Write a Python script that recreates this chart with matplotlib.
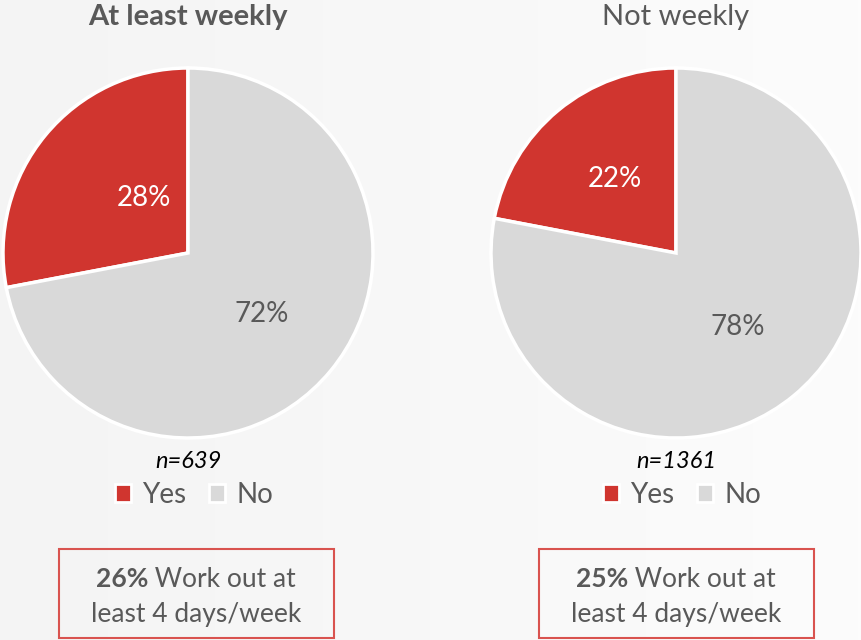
import numpy as np
import matplotlib
matplotlib.use("Agg")
import matplotlib.pyplot as plt
from matplotlib.patches import Rectangle
from matplotlib.offsetbox import TextArea, HPacker, VPacker, AnnotationBbox

plt.rcParams['font.family'] = ['Lato', 'DejaVu Sans']

# Survey data
groups = ["At least weekly", "Not weekly"]
title_bold = [True, False]
yes_pct = [28, 22]
no_pct = [72, 78]
sample_n = [639, 1361]
workout_pct = [26, 25]
legend_labels = ["Yes", "No"]

RED = "#d0352f"
GRAY = "#d9d9d9"
TXT = "#595959"
W, H = 861, 640

fig = plt.figure(figsize=(W / 100, H / 100), dpi=100)

# soft left-to-right background shade
bg = fig.add_axes([0, 0, 1, 1], zorder=-10)
grad = np.linspace(0, 1, 256).reshape(1, -1)
bg.imshow(grad, aspect="auto", cmap=matplotlib.colors.LinearSegmentedColormap.from_list(
    "bg", ["#f4f4f4", "#fcfcfc"]), extent=[0, 1, 0, 1])
bg.axis("off")

centers = [188, 676]
radius = 185
box_centers = [196, 676]

for i, cx in enumerate(centers):
    ax = fig.add_axes([(cx - radius) / W, (H - 253 - radius) / H,
                       2 * radius / W, 2 * radius / H])
    wedges, texts, autotexts = ax.pie(
        [yes_pct[i], no_pct[i]], colors=[RED, GRAY], startangle=90,
        counterclock=True, autopct="%d%%", pctdistance=0.52,
        wedgeprops=dict(edgecolor="white", linewidth=2.5),
        textprops=dict(fontsize=20))
    autotexts[0].set_color("white")
    autotexts[1].set_color(TXT)
    if i == 0:
        # pull the small slice label a bit toward the centre
        x, y = autotexts[0].get_position()
        autotexts[0].set_position((x * 0.6, y * 0.9))
    ax.set_xlim(-1, 1)
    ax.set_ylim(-1, 1)
    ax.set_aspect("equal")

    fig.text(cx / W, 1 - 17 / H, groups[i], ha="center", va="center",
             fontsize=21, color=TXT,
             fontweight="bold" if title_bold[i] else "normal")
    fig.text(cx / W, 1 - 462 / H, f"n={sample_n[i]}", ha="center",
             va="center", fontsize=17, style="italic", color="black")

    leg = fig.legend(wedges, legend_labels, loc="center",
                     bbox_to_anchor=((cx + 6) / W, 1 - 495 / H), ncol=2,
                     frameon=False, fontsize=20, handlelength=0.6,
                     handleheight=0.6, columnspacing=0.8, handletextpad=0.4)
    for t in leg.get_texts():
        t.set_color(TXT)
    for hnd in leg.legend_handles:
        hnd.set_edgecolor("white")
        hnd.set_linewidth(2)

    # callout box
    bx = box_centers[i]
    fig.patches.append(Rectangle(((bx - 137) / W, 2 / H), 275 / W, 89 / H,
                                 transform=fig.transFigure, fill=False,
                                 edgecolor="#d9534f", linewidth=1.5))
    line1 = HPacker(children=[
        TextArea(f"{workout_pct[i]}%", textprops=dict(fontsize=19, color=TXT, fontweight="bold")),
        TextArea(" Work out at", textprops=dict(fontsize=19, color=TXT))],
        align="baseline", pad=0, sep=0)
    line2 = TextArea("least 4 days/week", textprops=dict(fontsize=19, color=TXT))
    block = VPacker(children=[line1, line2], align="center", pad=0, sep=7)
    ab = AnnotationBbox(block, (bx / W, 1 - 597 / H), xycoords="figure fraction",
                        frameon=False, box_alignment=(0.5, 0.5))
    fig.add_artist(ab)

fig.savefig("out.png", dpi=100, facecolor=fig.get_facecolor())
